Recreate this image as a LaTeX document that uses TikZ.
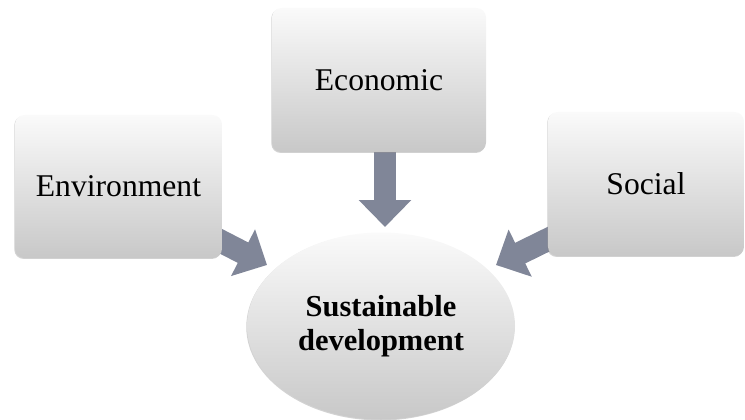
\documentclass[tikz,border=0pt]{standalone}
\usepackage{fontspec}
\setmainfont{Liberation Serif}
\usetikzlibrary{shapes.geometric, arrows.meta, positioning, shadows, backgrounds}
\definecolor{cajaTop}{RGB}{250, 250, 250}
\definecolor{cajaBot}{RGB}{200, 200, 200}
\definecolor{flechaGris}{RGB}{128, 134, 152}

\tikzset{
    caja/.style={rectangle, rounded corners=8pt, top color=cajaTop, bottom color=cajaBot,
        draw=none, font=\fontsize{27}{30}\selectfont, align=center,
        drop shadow={shadow xshift=-0.6pt, shadow yshift=-0.8pt, opacity=0.35}},
    centro/.style={ellipse, top color=cajaTop, bottom color=cajaBot, draw=none,
        minimum width=8.04cm, minimum height=5.61cm, align=center,
        font=\fontsize{26}{29}\selectfont\bfseries,
        drop shadow={shadow xshift=-0.6pt, shadow yshift=-0.8pt, opacity=0.35}},
    flecha/.style={draw=flechaGris, line width=19.6pt,
        -{Triangle[length=23pt, width=43.5pt, fill=flechaGris]}}
}

\begin{document}
\begin{tikzpicture}[x=0.03cm, y=-0.03cm]
        \useasboundingbox (0,0) rectangle (745,420);
        % the three boxes
        \node[caja, minimum width=6.21cm, minimum height=4.29cm] (env) at (118.5,186.5) {Environment};
        \node[caja, minimum width=6.42cm, minimum height=4.32cm] (econ) at (379,80) {Economic};
        \node[caja, minimum width=5.88cm, minimum height=4.32cm] (soc) at (646,184) {Social};
        % centre
        \node[centro] (sd) at (381,326) {Sustainable\\development};
        \coordinate (envTip) at (267,265);
        \coordinate (econTip) at (385,227);
        \coordinate (socTip) at (496,265);
        \begin{scope}[on background layer]
            \draw[flecha] ([shift={(-17,-25)}]env.south east) -- (envTip);
            \draw[flecha] ([shift={(6,-12)}]econ.south) -- (econTip);
            \draw[flecha] ([shift={(17,-25)}]soc.south west) -- (socTip);
        \end{scope}
    \end{tikzpicture}
\end{document}
